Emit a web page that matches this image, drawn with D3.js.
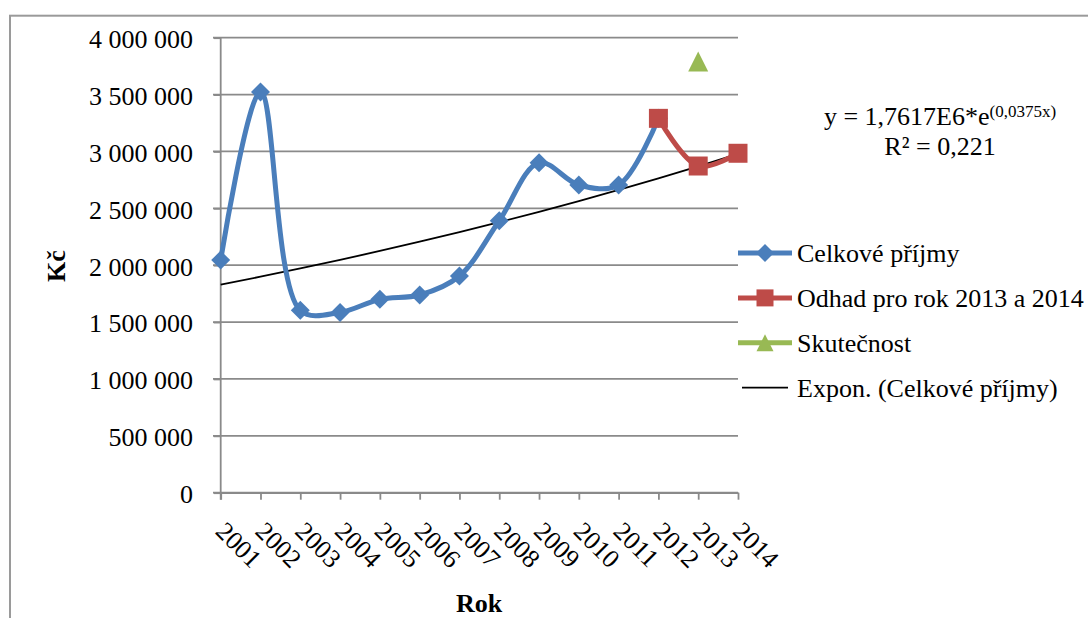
<!DOCTYPE html>
<html>
  <head>
    <meta charset="utf-8">
    <script src="https://d3js.org/d3.v7.min.js"></script>
    <title>Celkové příjmy</title>
    <style>
      body {
        margin: 0px;
        background: #fff;
      }
      text {
        font-family: "Liberation Serif", "Times New Roman", serif;
        fill: #000;
      }
      .axis text {
        font-family: "Liberation Serif", "Times New Roman", serif;
        font-size: 26px;
      }
      .axis line, .axis path {
        stroke: #8a8a8a;
        stroke-width: 1.8px;
      }
      .grid line {
        stroke: #8a8a8a;
        stroke-width: 1.8px;
      }
    </style>
  </head>
  <body>
    <svg width="1088" height="618"></svg>
    <script>
      // data
      const years = ['2001', '2002', '2003', '2004', '2005', '2006', '2007',
                     '2008', '2009', '2010', '2011', '2012', '2013', '2014'];
      const prijmyYears = years.slice(0, 12);
      const prijmy = [2045000, 3523000, 1603000, 1585000, 1700000, 1738000,
                      1905000, 2391000, 2901000, 2705000, 2705000, 3291000];
      const odhadYears = ['2012', '2013', '2014'];
      const odhad = [3291000, 2872000, 2984000];
      const skutYears = ['2013'];
      const skut = [3790000];
      const yTicks = [0, 500000, 1000000, 1500000, 2000000, 2500000, 3000000, 3500000, 4000000];
      // trend equation as printed on the chart
      const trendA = 1.7617e6;
      const trendB = 0.0375;
      const legendLabels = ['Celkové příjmy', 'Odhad pro rok 2013 a 2014', 'Skutečnost',
                            'Expon. (Celkové příjmy)'];

      const blue = '#4a7ebb';
      const red = '#be4b48';
      const green = '#98b954';

      const svg = d3.select('svg');

      // outer chart frame
      svg.append('rect')
          .attr('x', 10)
          .attr('y', 15.7)
          .attr('width', 1200)
          .attr('height', 700)
          .attr('fill', 'none')
          .attr('stroke', '#9a9a9a')
          .attr('stroke-width', 2);

      const x = d3.scalePoint().domain(years).range([220.7, 738]);
      const y = d3.scaleLinear().domain([0, 4000000]).range([492.7, 37.7]);

      const fmt = v => d3.format(',')(v).replace(/,/g, ' ');

      // gridlines
      svg.append('g')
          .attr('class', 'grid')
        .selectAll('line').data(yTicks)
        .enter().append('line')
          .attr('x1', 213)
          .attr('x2', 738)
          .attr('y1', d => y(d))
          .attr('y2', d => y(d));

      const yAxisG = svg.append('g')
          .attr('class', 'axis')
          .attr('transform', `translate(${x.range()[0]},0)`)
          .call(d3.axisLeft(y).tickValues(yTicks).tickFormat(fmt)
            .tickSize(7).tickSizeOuter(0).tickPadding(20.7));
      yAxisG.attr('font-family', null).attr('font-size', null);
      yAxisG.selectAll('text').attr('dy', '0.38em');
      yAxisG.select('.domain').attr('d', `M0,${y(4000000)}V${y(0) + 7}`);

      const xAxisG = svg.append('g')
          .attr('class', 'axis')
          .attr('transform', `translate(0,${y(0)})`)
          .call(d3.axisBottom(x).tickSize(7).tickSizeOuter(0));
      xAxisG.attr('font-family', null).attr('font-size', null);
      xAxisG.selectAll('text')
          .attr('x', 0)
          .attr('y', 0)
          .attr('dy', 0)
          .attr('text-anchor', 'start')
          .attr('transform', 'translate(-7,40) rotate(45)');

      // axis titles
      svg.append('text')
          .attr('transform', 'translate(65,266) rotate(-90)')
          .attr('text-anchor', 'middle')
          .attr('font-weight', 'bold')
          .attr('font-size', 26)
          .text('Kč');

      svg.append('text')
          .attr('x', 479)
          .attr('y', 612)
          .attr('text-anchor', 'middle')
          .attr('font-weight', 'bold')
          .attr('font-size', 26)
          .text('Rok');

      // markers
      const diamond = s => `M0,${-s / 2}L${s / 2},0L0,${s / 2}L${-s / 2},0Z`;
      const square = s => `M${-s / 2},${-s / 2}h${s}v${s}h${-s}Z`;
      const triangle = s => `M0,${-s / 2}L${s / 2},${s / 2}L${-s / 2},${s / 2}Z`;

      // trend line
      const trend = years.map((yr, i) => [yr, trendA * Math.exp(trendB * (i + 1))]);
      svg.append('path')
          .datum(trend)
          .attr('fill', 'none')
          .attr('stroke', '#000')
          .attr('stroke-width', 1.8)
          .attr('d', d3.line().x(d => x(d[0])).y(d => y(d[1])));

      const smooth = d3.line()
          .x(d => x(d[0]))
          .y(d => y(d[1]))
          .curve(d3.curveCatmullRom.alpha(0.5));

      const drawSeries = (ys, vals, color, shape, size) => {
        const pts = ys.map((yr, i) => [yr, vals[i]]);
        if (pts.length > 1) {
          svg.append('path')
              .datum(pts)
              .attr('fill', 'none')
              .attr('stroke', color)
              .attr('stroke-width', 5)
              .attr('stroke-linejoin', 'round')
              .attr('d', smooth);
        }
        svg.append('g').selectAll('path').data(pts)
          .enter().append('path')
            .attr('transform', d => `translate(${x(d[0])},${y(d[1])})`)
            .attr('d', shape(size))
            .attr('fill', color);
      };

      drawSeries(prijmyYears, prijmy, blue, diamond, 19);
      drawSeries(odhadYears, odhad, red, square, 19);
      drawSeries(skutYears, skut, green, triangle, 20);

      // equation
      const eq = svg.append('text')
          .attr('x', 940)
          .attr('y', 125)
          .attr('text-anchor', 'middle')
          .attr('font-size', 26);
      eq.append('tspan').text('y = 1,7617E6*e');
      eq.append('tspan').attr('font-size', 17).attr('dy', -8).text('(0,0375x)');
      svg.append('text')
          .attr('x', 940)
          .attr('y', 155)
          .attr('text-anchor', 'middle')
          .attr('font-size', 26)
          .text('R² = 0,221');

      // legend
      const legendItems = [
        { color: blue, shape: diamond, size: 18, width: 5 },
        { color: red, shape: square, size: 17, width: 5 },
        { color: green, shape: triangle, size: 17, width: 5 },
        { color: '#000', shape: null, size: 0, width: 1.8 }
      ];
      const legendG = svg.append('g').attr('transform', 'translate(738,253)');
      const cell = legendG.selectAll('g').data(legendItems)
        .enter().append('g')
          .attr('transform', (d, i) => `translate(0,${i * 44.9})`);
      cell.append('line')
          .attr('x1', d => d.shape ? 0 : 4)
          .attr('x2', d => d.shape ? 54 : 50)
          .attr('stroke', d => d.color)
          .attr('stroke-width', d => d.width);
      cell.filter(d => d.shape).append('path')
          .attr('transform', 'translate(27,0)')
          .attr('d', d => d.shape(d.size))
          .attr('fill', d => d.color);
      cell.append('text')
          .attr('x', 59)
          .attr('dy', '0.35em')
          .attr('font-size', 26)
          .text((d, i) => legendLabels[i]);
    </script>
  </body>
</html>
